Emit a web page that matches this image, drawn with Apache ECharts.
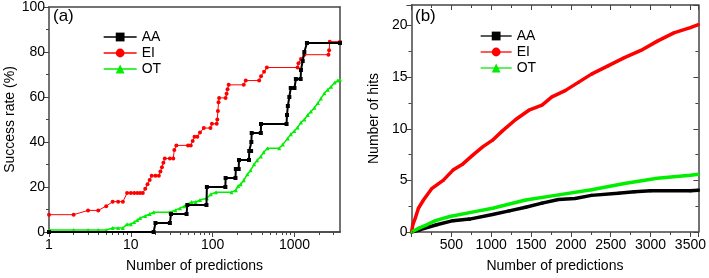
<!DOCTYPE html>
<html>
<head>
<meta charset="utf-8">
<script src="https://cdn.jsdelivr.net/npm/echarts@6/dist/echarts.min.js"></script>
<style>
	html, body { margin: 0; padding: 0; background: #fff; }
	#chart { width: 709px; height: 278px; }
</style>
</head>
<body>
<div id="chart"></div>
<script>
// names of the three methods
var seriesNames = ['AA', 'EI', 'OT'];
var seriesColors = ['#000000', '#ff0000', '#00ee00'];
var seriesSymbols = ['rect', 'circle', 'triangle'];

// (a) success rate (%) vs number of predictions, [predictions, rate]
var aaRate = [[1,0],[19,0],[20,4],[30,4],[31,8],[48,8],[49,12],[84,12],[85,20],[143,20],[144,24],[190,24],[192,28],[208,28],[210,32],[278,32],[280,36],[295,36],[297,40],[300,44],[388,44],[390,48],[800,48],[810,52],[830,56],[865,60],[900,64],[1000,64],[1040,68],[1190,68],[1200,72],[1260,76],[1320,80],[1420,84],[3600,84]];
var eiRate = [[1,7.7],[2,7.7],[3,9.6],[4,9.6],[5,11.5],[6,13.5],[7,13.5],[8,13.5],[9,17.3],[10,17.3],[11,17.3],[12,17.3],[13,17.3],[14,17.3],[15,19.2],[16,21.2],[17,23.1],[18,25],[20,25],[22,25],[23,26.9],[24,28.8],[25,30.8],[26,32.7],[30,32.7],[33,32.7],[34,36.5],[36,38.5],[50,38.5],[54,38.5],[57,40.4],[60,42.3],[65,42.3],[70,44.2],[78,46.2],[94,46.2],[98,48.1],[112,48.1],[114,50],[116,53.8],[118,57.7],[120,59.6],[144,59.6],[148,61.5],[152,63.5],[157,65.4],[240,65.4],[254,67.3],[370,67.3],[390,69.2],[425,71.2],[460,73.1],[1090,73.1],[1120,75],[1200,76.9],[1320,78.8],[2600,78.8],[2650,80.8],[2700,84.6],[3600,84.6]];
var otRate = [[1,0.9],[2,0.9],[3,0.9],[4,0.9],[5,0.9],[6,1.8],[7,1.8],[8,1.8],[9,3.5],[10,3.5],[11,4.4],[12,5.3],[13,6.2],[15,7.1],[17,8],[19,8.8],[30,8.8],[35,9.7],[40,10.6],[45,11.5],[50,12.4],[55,13.3],[62,13.3],[70,14.2],[85,15],[95,16.8],[110,17.7],[170,17.7],[192,18.6],[205,20.4],[220,21.2],[240,23],[266,25.7],[290,27.4],[321,30.1],[350,31.9],[388,33.6],[420,35.4],[468,37.2],[650,37.2],[720,38.9],[826,41.6],[900,43.4],[995,44.9],[1090,46.4],[1200,48.7],[1320,50],[1450,52],[1590,53.6],[1750,55.2],[1930,57.3],[2100,59.3],[2320,61.7],[2550,63.2],[2800,64.6],[3100,66.4],[3390,67.3],[3600,67.8]];

// (b) number of hits vs number of predictions, [predictions, hits]
var aaHits = [[0,0],[100,0.2],[315,0.7],[521,1.1],[728,1.25],[1017,1.7],[1225,2.05],[1432,2.4],[1638,2.8],[1845,3.15],[2052,3.25],[2258,3.55],[2590,3.75],[2796,3.9],[3000,4],[3499,4],[3600,4.05]];
var eiHits = [[0,0],[20,0.8],[50,1.4],[87,2.3],[150,3.1],[253,4.2],[397,5],[521,6],[645,6.6],[769,7.45],[893,8.25],[1017,8.9],[1141,9.8],[1308,10.9],[1473,11.8],[1638,12.3],[1762,13.1],[1928,13.7],[2093,14.5],[2258,15.3],[2465,16.1],[2672,16.9],[2878,17.6],[3085,18.5],[3292,19.3],[3499,19.8],[3600,20.1]];
var otHits = [[0,0],[100,0.4],[191,0.7],[300,1.1],[480,1.5],[811,2],[1017,2.3],[1432,3.1],[1845,3.6],[2258,4.1],[2672,4.7],[3085,5.2],[3499,5.5],[3600,5.6]];

// tick values
var logMajorTicks = [1, 10, 100, 1000];
var logMinorTicks = [2,3,4,5,6,7,8,9,20,30,40,50,60,70,80,90,200,300,400,500,600,700,800,900,2000,3000];

var font = 'Liberation Sans, Arial, sans-serif';
var axisColor = '#444';

function loadChart(){
	var chart = echarts.init(document.getElementById('chart'));

	var lineAxis = {
		axisLine: { show: true, onZero: false, lineStyle: { color: axisColor, width: 1.5 } },
		splitLine: { show: false }
	};
	var tickLine = { color: axisColor, width: 1 };
	var labelStyle = { color: '#000', fontSize: 14, fontFamily: font };
	var nameStyle = { color: '#000', fontSize: 14, fontFamily: font };
	var legendBase = {
		data: seriesNames, orient: 'vertical',
		itemHeight: 11, itemGap: 2,
		lineStyle: { width: 1.3 },
		textStyle: { color: '#000', fontSize: 14, fontFamily: font, lineHeight: 14 }
	};

	var option = {
		animation: false,
		backgroundColor: '#fff',
		grid: [
			{ left: 49, right: 369, top: 6, bottom: 44 },
			{ left: 411.5, right: 7.5, top: 5, bottom: 44 }
		],
		legend: [
			Object.assign({}, legendBase, { left: 98, top: 25, itemWidth: 33 }),
			Object.assign({}, legendBase, { left: 475, top: 24, itemWidth: 31 })
		],
		graphic: [
			{ type: 'text', left: 53, top: 8, style: { text: '(a)', fontSize: 17, fontFamily: font, fill: '#000' } },
			{ type: 'text', left: 415, top: 8, style: { text: '(b)', fontSize: 17, fontFamily: font, fill: '#000' } }
		],
		xAxis: [
			Object.assign({}, lineAxis, {
				type: 'log', logBase: 10, gridIndex: 0, min: 1, max: 3600, position: 'bottom',
				name: 'Number of predictions', nameLocation: 'middle', nameGap: 27, nameTextStyle: nameStyle,
				axisTick: { inside: false, length: 3, customValues: logMinorTicks, lineStyle: tickLine },
				axisLabel: Object.assign({ margin: 6, customValues: logMajorTicks,
					formatter: function (v) { return String(Math.round(v)); } }, labelStyle)
			}),
			Object.assign({}, lineAxis, {
				type: 'log', logBase: 10, gridIndex: 0, min: 1, max: 3600, position: 'bottom', offset: 0,
				axisTick: { inside: false, length: 5, customValues: logMajorTicks, lineStyle: tickLine },
				axisLabel: { show: false }
			}),
			Object.assign({}, lineAxis, {
				type: 'log', logBase: 10, gridIndex: 0, min: 1, max: 3600, position: 'top',
				axisTick: { show: false }, axisLabel: { show: false }
			}),
			Object.assign({}, lineAxis, {
				type: 'value', gridIndex: 1, min: 0, max: 3600, interval: 500, position: 'bottom',
				name: 'Number of predictions', nameLocation: 'middle', nameGap: 27, nameTextStyle: nameStyle,
				axisTick: { inside: false, length: 5, lineStyle: tickLine },
				minorTick: { show: true, splitNumber: 2, length: 3, lineStyle: tickLine },
				axisLabel: Object.assign({ margin: 6, showMaxLabel: false,
					formatter: function (v) { return v === 0 ? '' : String(v); } }, labelStyle)
			}),
			Object.assign({}, lineAxis, {
				type: 'value', gridIndex: 1, min: 0, max: 3600, interval: 500, position: 'top',
				axisTick: { inside: true, length: 5, lineStyle: tickLine },
				minorTick: { show: true, splitNumber: 2, length: 3, lineStyle: tickLine },
				axisLabel: { show: false }
			})
		],
		yAxis: [
			Object.assign({}, lineAxis, {
				type: 'value', gridIndex: 0, min: 0, max: 100, interval: 20,
				name: 'Success rate (%)', nameLocation: 'middle', nameGap: 32, nameTextStyle: nameStyle,
				axisTick: { inside: false, length: 5, lineStyle: tickLine },
				minorTick: { show: true, splitNumber: 2, length: 3, lineStyle: tickLine },
				axisLabel: Object.assign({ margin: 4 }, labelStyle)
			}),
			Object.assign({}, lineAxis, {
				type: 'value', gridIndex: 0, min: 0, max: 100, position: 'right',
				axisTick: { show: false }, axisLabel: { show: false }
			}),
			Object.assign({}, lineAxis, {
				type: 'value', gridIndex: 1, min: 0, max: 22, interval: 5,
				name: 'Number of hits', nameLocation: 'middle', nameGap: 30, nameTextStyle: nameStyle,
				axisTick: { inside: false, length: 5, lineStyle: tickLine },
				minorTick: { show: true, splitNumber: 2, length: 3, lineStyle: tickLine },
				axisLabel: Object.assign({ margin: 4, showMaxLabel: false }, labelStyle)
			}),
			Object.assign({}, lineAxis, {
				type: 'value', gridIndex: 1, min: 0, max: 22, interval: 5, position: 'right',
				axisTick: { inside: true, length: 5, lineStyle: tickLine },
				minorTick: { show: true, splitNumber: 2, length: 3, lineStyle: tickLine },
				axisLabel: { show: false }
			})
		],
		series: [
			{ name: 'AA', type: 'line', xAxisIndex: 0, yAxisIndex: 0, data: aaRate,
				symbol: seriesSymbols[0], symbolSize: 4, color: seriesColors[0], lineStyle: { width: 2 }, z: 4 },
			{ name: 'EI', type: 'line', xAxisIndex: 0, yAxisIndex: 0, data: eiRate,
				symbol: seriesSymbols[1], symbolSize: 4, color: seriesColors[1], lineStyle: { width: 1 }, z: 3 },
			{ name: 'OT', type: 'line', xAxisIndex: 0, yAxisIndex: 0, data: otRate,
				symbol: seriesSymbols[2], symbolSize: 4, color: seriesColors[2], lineStyle: { width: 1.5 }, z: 2 },
			{ name: 'AA', type: 'line', xAxisIndex: 3, yAxisIndex: 2, data: aaHits,
				symbol: seriesSymbols[0], symbolSize: 3, color: seriesColors[0], lineStyle: { width: 3.5 }, z: 2 },
			{ name: 'EI', type: 'line', xAxisIndex: 3, yAxisIndex: 2, data: eiHits,
				symbol: seriesSymbols[1], symbolSize: 3, color: seriesColors[1], lineStyle: { width: 3.5 }, z: 3 },
			{ name: 'OT', type: 'line', xAxisIndex: 3, yAxisIndex: 2, data: otHits,
				symbol: seriesSymbols[2], symbolSize: 3, color: seriesColors[2], lineStyle: { width: 3.5 }, z: 3 }
		]
	};
	chart.setOption(option);
}
loadChart();
</script>
</body>
</html>
